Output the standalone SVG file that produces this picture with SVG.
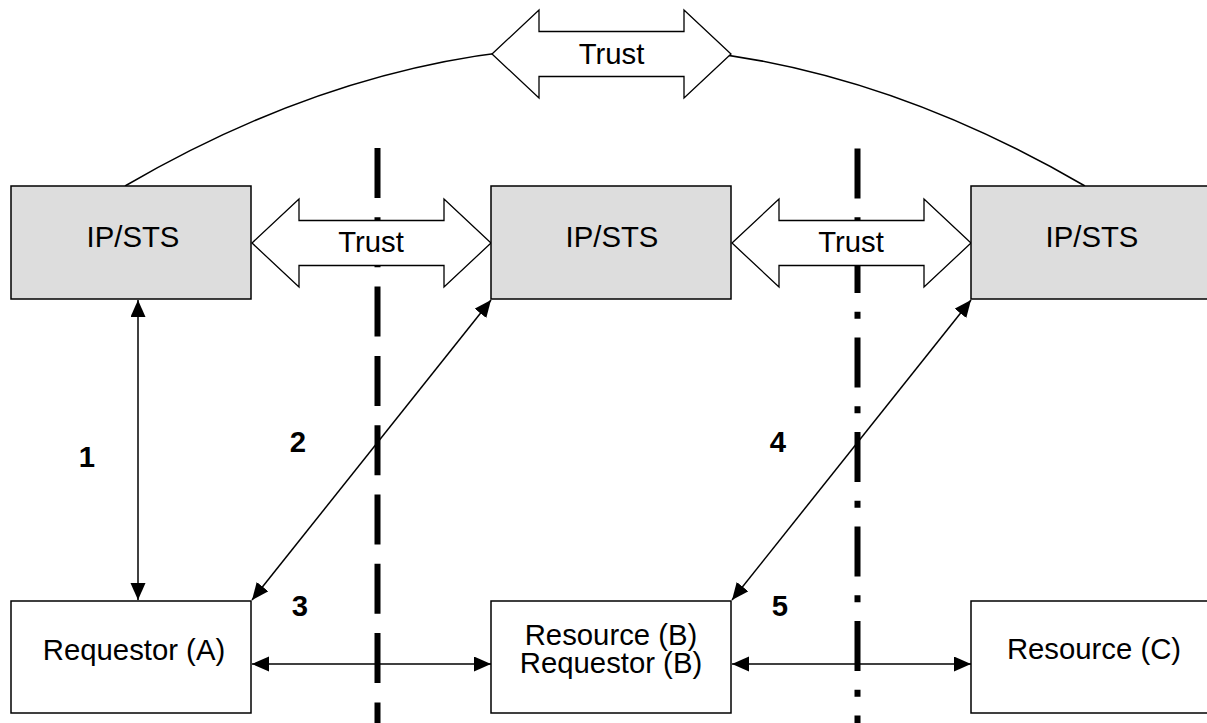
<svg xmlns="http://www.w3.org/2000/svg" width="1207" height="723" viewBox="0 0 1207 723">
  <style>
    .box { stroke: #000; stroke-width: 1.5; }
    .sts { fill: #dddddd; }
    .plain { fill: #ffffff; }
    .txt { font-family: "Liberation Sans", Arial, sans-serif; font-size: 29.3px; fill: #000; text-anchor: middle; }
    .num { font-family: "Liberation Sans", Arial, sans-serif; font-size: 29.3px; font-weight: bold; fill: #000; text-anchor: middle; }
    .trust { fill: #ffffff; stroke: #000; stroke-width: 1.3; }
    .conn { stroke: #000; stroke-width: 1.5; fill: none; }
    .boundary { stroke: #000; stroke-width: 6; fill: none; }
  </style>
  <defs>
    <marker id="ah" markerUnits="userSpaceOnUse" markerWidth="18" markerHeight="16" refX="17" refY="7.5" orient="auto-start-reverse" viewBox="0 0 18 16">
      <path d="M0,0 L17,7.5 L0,15 z" fill="#000"/>
    </marker>
  </defs>
  <rect width="1207" height="723" fill="#ffffff"/>

  <g id="trust-curve">
    <path class="conn" d="M125,186 Q605,-94 1085,186"/>
  </g>

  <g id="boundaries">
    <line class="boundary" x1="377.5" y1="148" x2="377.5" y2="723" stroke-dasharray="50 19.3"/>
    <line class="boundary" x1="857.5" y1="148.5" x2="857.5" y2="723" stroke-dasharray="50 18.75 7 18.75"/>
  </g>

  <g id="trust-top">
    <polygon class="trust" points="492,54 539,10 539,31.5 684,31.5 684,10 731,54 684,98 684,76.5 539,76.5 539,98"/>
    <text class="txt" x="611.5" y="64">Trust</text>
  </g>
  <g id="trust-left">
    <polygon class="trust" points="252,243 299,199 299,220.5 444,220.5 444,199 491,243 444,287 444,265.5 299,265.5 299,287"/>
    <text class="txt" x="371" y="252">Trust</text>
  </g>
  <g id="trust-right">
    <polygon class="trust" points="732,243 779,199 779,220.5 924,220.5 924,199 971,243 924,287 924,265.5 779,265.5 779,287"/>
    <text class="txt" x="851" y="252">Trust</text>
  </g>

  <g id="ipsts-a">
    <rect class="box sts" x="11" y="186" width="240" height="113"/>
    <text class="txt" x="133" y="247">IP/STS</text>
  </g>
  <g id="ipsts-b">
    <rect class="box sts" x="491" y="186" width="240" height="113"/>
    <text class="txt" x="612" y="247">IP/STS</text>
  </g>
  <g id="ipsts-c">
    <rect class="box sts" x="971" y="186" width="240" height="113"/>
    <text class="txt" x="1092" y="247">IP/STS</text>
  </g>

  <g id="requestor-a">
    <rect class="box plain" x="11" y="601" width="240" height="112"/>
    <text class="txt" x="134" y="660">Requestor (A)</text>
  </g>
  <g id="resource-b">
    <rect class="box plain" x="491" y="601" width="240" height="112"/>
    <text class="txt" x="611" y="645">Resource (B)</text>
    <text class="txt" x="611" y="673">Requestor (B)</text>
  </g>
  <g id="resource-c">
    <rect class="box plain" x="971" y="601" width="240" height="112"/>
    <text class="txt" x="1094" y="659">Resource (C)</text>
  </g>

  <g id="connectors">
    <line class="conn" x1="138" y1="300" x2="138" y2="600" marker-start="url(#ah)" marker-end="url(#ah)"/>
    <line class="conn" x1="491" y1="300" x2="252" y2="600" marker-start="url(#ah)" marker-end="url(#ah)"/>
    <line class="conn" x1="971" y1="300" x2="732" y2="600" marker-start="url(#ah)" marker-end="url(#ah)"/>
    <line class="conn" x1="252" y1="664" x2="491" y2="664" marker-start="url(#ah)" marker-end="url(#ah)"/>
    <line class="conn" x1="732" y1="664" x2="971" y2="664" marker-start="url(#ah)" marker-end="url(#ah)"/>
  </g>

  <g id="labels">
    <text class="num" x="87" y="467">1</text>
    <text class="num" x="298" y="452">2</text>
    <text class="num" x="300" y="616">3</text>
    <text class="num" x="778" y="452">4</text>
    <text class="num" x="780" y="616">5</text>
  </g>
</svg>
